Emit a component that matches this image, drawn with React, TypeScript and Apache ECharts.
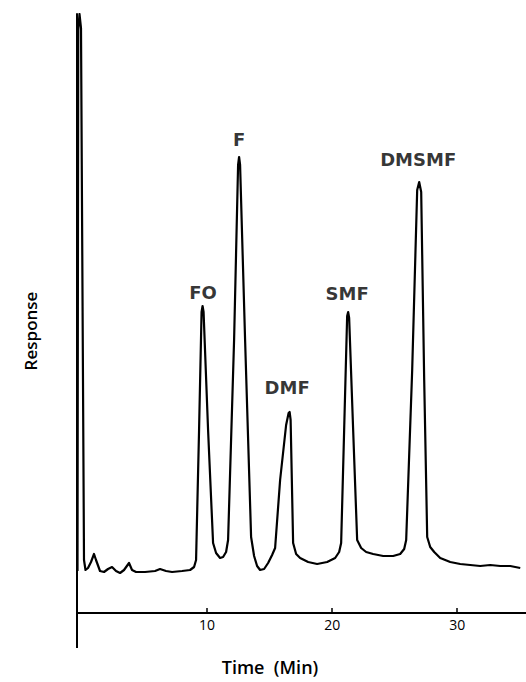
import React, { useEffect, useRef } from "react";
import * as echarts from "echarts";

// Retention time (min) and detector response (arbitrary units)
const timeMin = [
  -0.36, -0.3, -0.2, -0.08, 0.16, 0.28, 0.48, 0.72, 0.96, 1.12, 1.44, 1.76, 2.08, 2.4, 2.72, 3.04, 3.36,
  3.76, 4.0, 4.32, 5.04, 5.84, 6.24, 6.72, 7.2, 8.0, 8.64, 8.96, 9.12,
  9.36, 9.56, 9.64, 9.72, 10.08, 10.48, 10.72, 11.04, 11.28, 11.52, 11.68,
  12.16, 12.48, 12.56, 12.64, 13.04, 13.52, 13.76, 14.0, 14.24, 14.56, 14.88, 15.2, 15.44,
  15.84, 16.32, 16.52, 16.6, 16.68, 16.88, 17.12, 17.44, 18.08, 18.8, 19.6, 20.24, 20.56, 20.72,
  20.96, 21.2, 21.28, 21.36, 21.68, 22.0, 22.32, 22.72, 23.28, 24.08, 24.88, 25.44, 25.76, 25.92,
  26.4, 26.8, 26.96, 27.12, 27.36, 27.6, 27.84, 28.16, 28.64, 29.44, 30.24, 31.04, 31.84, 32.64,
  33.44, 34.24, 35.04,
];
const response = [
  42, 583, 599, 585, 53, 43, 45, 51, 59, 53, 42, 41, 44, 46, 42, 40, 43,
  50, 43, 41, 41, 42, 44, 42, 41, 42, 43, 46, 53,
  183, 301, 307, 301, 183, 70, 60, 55, 56, 61, 73,
  273, 448, 456, 448, 273, 76, 57, 47, 43, 44, 50, 58, 65,
  133, 188, 200, 201, 193, 70, 59, 55, 51, 49, 51, 55, 61, 70,
  183, 297, 301, 295, 183, 73, 65, 61, 59, 57, 57, 59, 64, 73,
  243, 423, 431, 421, 233, 76, 66, 61, 55, 51, 49, 48, 47, 48,
  47, 47, 45,
];

const peakNames = ["FO", "F", "DMF", "SMF", "DMSMF"];
const peakLabelTime = [9.68, 12.56, 16.4, 21.2, 26.88];
const peakLabelResponse = [321, 474, 226, 320, 454];

const xTicks = [10, 20, 30];

export default function App() {
  const ref = useRef<HTMLDivElement>(null);

  useEffect(() => {
    if (!ref.current) return;
    const chart = echarts.init(ref.current, undefined, { renderer: "svg" });
    const ink = "#000000";
    const peakFont = "DejaVu Sans";
    const textFont = "Open Sans";

    chart.setOption({
      animation: false,
      backgroundColor: "#ffffff",
      grid: { left: 77, right: 0, top: 14, bottom: 69, outerBoundsMode: "none" },
      xAxis: {
        type: "value",
        min: -0.4,
        max: 35.5,
        axisLine: { show: true, onZero: false, lineStyle: { color: ink, width: 2 } },
        axisTick: {
          show: true,
          inside: true,
          length: 5,
          customValues: xTicks,
          lineStyle: { color: ink, width: 1.5 },
        },
        axisLabel: {
          show: true,
          customValues: xTicks,
          margin: 4,
          color: ink,
          fontSize: 14,
          fontFamily: textFont,
        },
        splitLine: { show: false },
      },
      yAxis: {
        type: "value",
        min: 0,
        max: 599,
        axisLine: { show: true, onZero: false, lineStyle: { color: ink, width: 2 } },
        axisTick: { show: false },
        axisLabel: { show: false },
        splitLine: { show: false },
      },
      series: [
        {
          type: "line",
          data: timeMin.map((t, i) => [t, response[i]]),
          symbol: "none",
          smooth: false,
          lineStyle: { color: ink, width: 2.2, join: "round" },
        },
        {
          type: "scatter",
          symbolSize: 0,
          data: peakNames.map((n, i) => ({ name: n, value: [peakLabelTime[i], peakLabelResponse[i]] })),
          label: {
            show: true,
            position: "inside",
            formatter: "{b}",
            color: ink,
            fontSize: 18,
            fontWeight: "bold",
            fontFamily: peakFont,
          },
          silent: true,
        },
      ],
      graphic: [
        {
          type: "line",
          shape: { x1: 77, y1: 612, x2: 77, y2: 648 },
          style: { stroke: ink, lineWidth: 2 },
        },
        {
          type: "text",
          x: 270,
          y: 667,
          style: {
            text: "Time  (Min)",
            fill: ink,
            font: `600 18px "${textFont}"`,
            textAlign: "center",
            textVerticalAlign: "middle",
          },
        },
        {
          type: "text",
          x: 30,
          y: 331,
          rotation: Math.PI / 2,
          style: {
            text: "Response",
            fill: ink,
            font: `600 17px "${textFont}"`,
            textAlign: "center",
            textVerticalAlign: "middle",
          },
        },
      ],
    });

    return () => chart.dispose();
  }, []);

  return (
    <div
      ref={ref}
      style={{ position: "fixed", left: 0, top: 0, width: 526, height: 682, background: "#fff" }}
    />
  );
}
